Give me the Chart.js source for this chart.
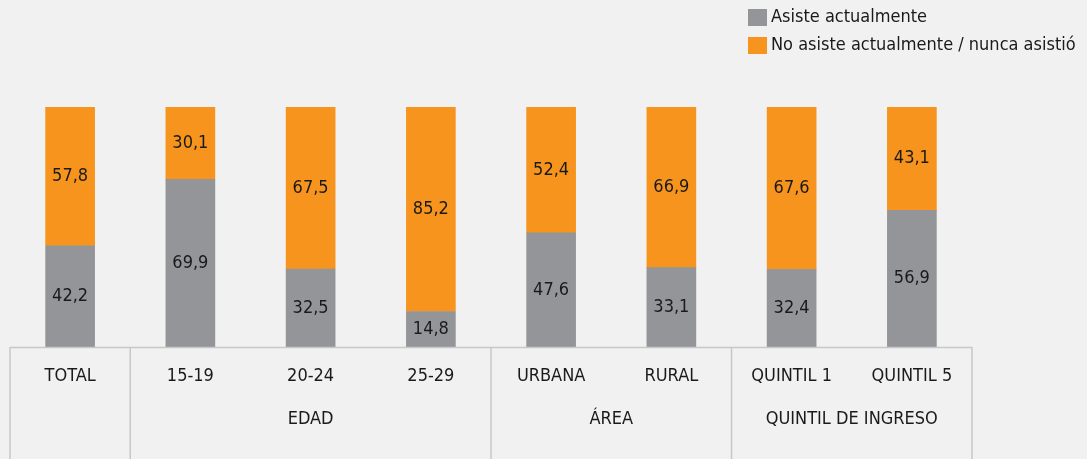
<!DOCTYPE html>
<html>
<head>
<meta charset="utf-8">
<script src="https://cdn.jsdelivr.net/npm/chart.js@4/dist/chart.umd.min.js"></script>
<style>
  html, body { margin: 0; padding: 0; background: #f1f1f1; }
  #wrap { width: 1087px; height: 459px; position: relative; }
</style>
</head>
<body>
<div id="wrap"><canvas id="chart" width="1087" height="459"></canvas></div>
<script>
const categories = ['TOTAL', '15-19', '20-24', '25-29', 'URBANA', 'RURAL', 'QUINTIL 1', 'QUINTIL 5']
const asiste = [42.2, 69.9, 32.5, 14.8, 47.6, 33.1, 32.4, 56.9]
const noAsiste = [57.8, 30.1, 67.5, 85.2, 52.4, 66.9, 67.6, 43.1]
const groups = [
    { label: '', from: 0, to: 0 },
    { label: 'EDAD', from: 1, to: 3 },
    { label: 'ÁREA', from: 4, to: 5 },
    { label: 'QUINTIL DE INGRESO', from: 6, to: 7 }
]

const FONT = '"Liberation Sans Narrow", "DejaVu Sans Condensed", sans-serif'

function fmt(v) {
    return v.toFixed(1).replace('.', ',')
}

const tablePlugin = {
    id: 'tableAxis',
    afterDraw(chart) {
        const ctx = chart.ctx
        const x = chart.scales.x
        const area = chart.chartArea
        const step = x.getPixelForValue(1) - x.getPixelForValue(0)
        const bottom = chart.height

        ctx.save()
        ctx.strokeStyle = '#c8c8c8'
        ctx.lineWidth = 1.5
        ctx.beginPath()
        ctx.moveTo(area.left, area.bottom + 0.5)
        ctx.lineTo(area.right, area.bottom + 0.5)
        groups.forEach(g => {
            const left = x.getPixelForValue(g.from) - step / 2
            ctx.moveTo(left, area.bottom)
            ctx.lineTo(left, bottom)
        })
        ctx.moveTo(area.right, area.bottom)
        ctx.lineTo(area.right, bottom)
        ctx.stroke()

        ctx.fillStyle = '#1a1a1a'
        ctx.font = '18px ' + FONT
        ctx.textAlign = 'center'
        ctx.textBaseline = 'middle'
        categories.forEach((c, i) => {
            ctx.fillText(c, x.getPixelForValue(i), area.bottom + 29)
        })
        groups.forEach(g => {
            if (!g.label) return
            const cx = (x.getPixelForValue(g.from) + x.getPixelForValue(g.to)) / 2
            ctx.fillText(g.label, cx, area.bottom + 72)
        })

        // value labels
        chart.data.datasets.forEach((ds, di) => {
            const meta = chart.getDatasetMeta(di)
            meta.data.forEach((bar, i) => {
                const mid = (bar.y + bar.base) / 2
                ctx.fillText(fmt(ds.data[i]), bar.x, mid)
            })
        })

        // legend
        ctx.textAlign = 'left'
        chart.data.datasets.forEach((ds, di) => {
            const y = 17 + di * 28
            ctx.fillStyle = ds.backgroundColor
            ctx.fillRect(748, y - 8, 19, 17)
            ctx.fillStyle = '#1a1a1a'
            ctx.fillText(ds.label, 771, y)
        })
        ctx.restore()
    }
}

new Chart(document.getElementById('chart').getContext('2d'), {
    type: 'bar',
    data: {
        labels: categories,
        datasets: [{
            label: 'Asiste actualmente',
            data: asiste,
            backgroundColor: '#939598',
            barThickness: 49
        }, {
            label: 'No asiste actualmente / nunca asistió',
            data: noAsiste,
            backgroundColor: '#f7941d',
            barThickness: 49
        }]
    },
    options: {
        responsive: false,
        animation: false,
        layout: { padding: { left: 10, right: 115, top: 107, bottom: 112 } },
        plugins: { legend: { display: false }, tooltip: { enabled: false } },
        scales: {
            x: { stacked: true, display: false, offset: true },
            y: { stacked: true, display: false, min: 0, max: 100 }
        }
    },
    plugins: [tablePlugin]
});
</script>
</body>
</html>
